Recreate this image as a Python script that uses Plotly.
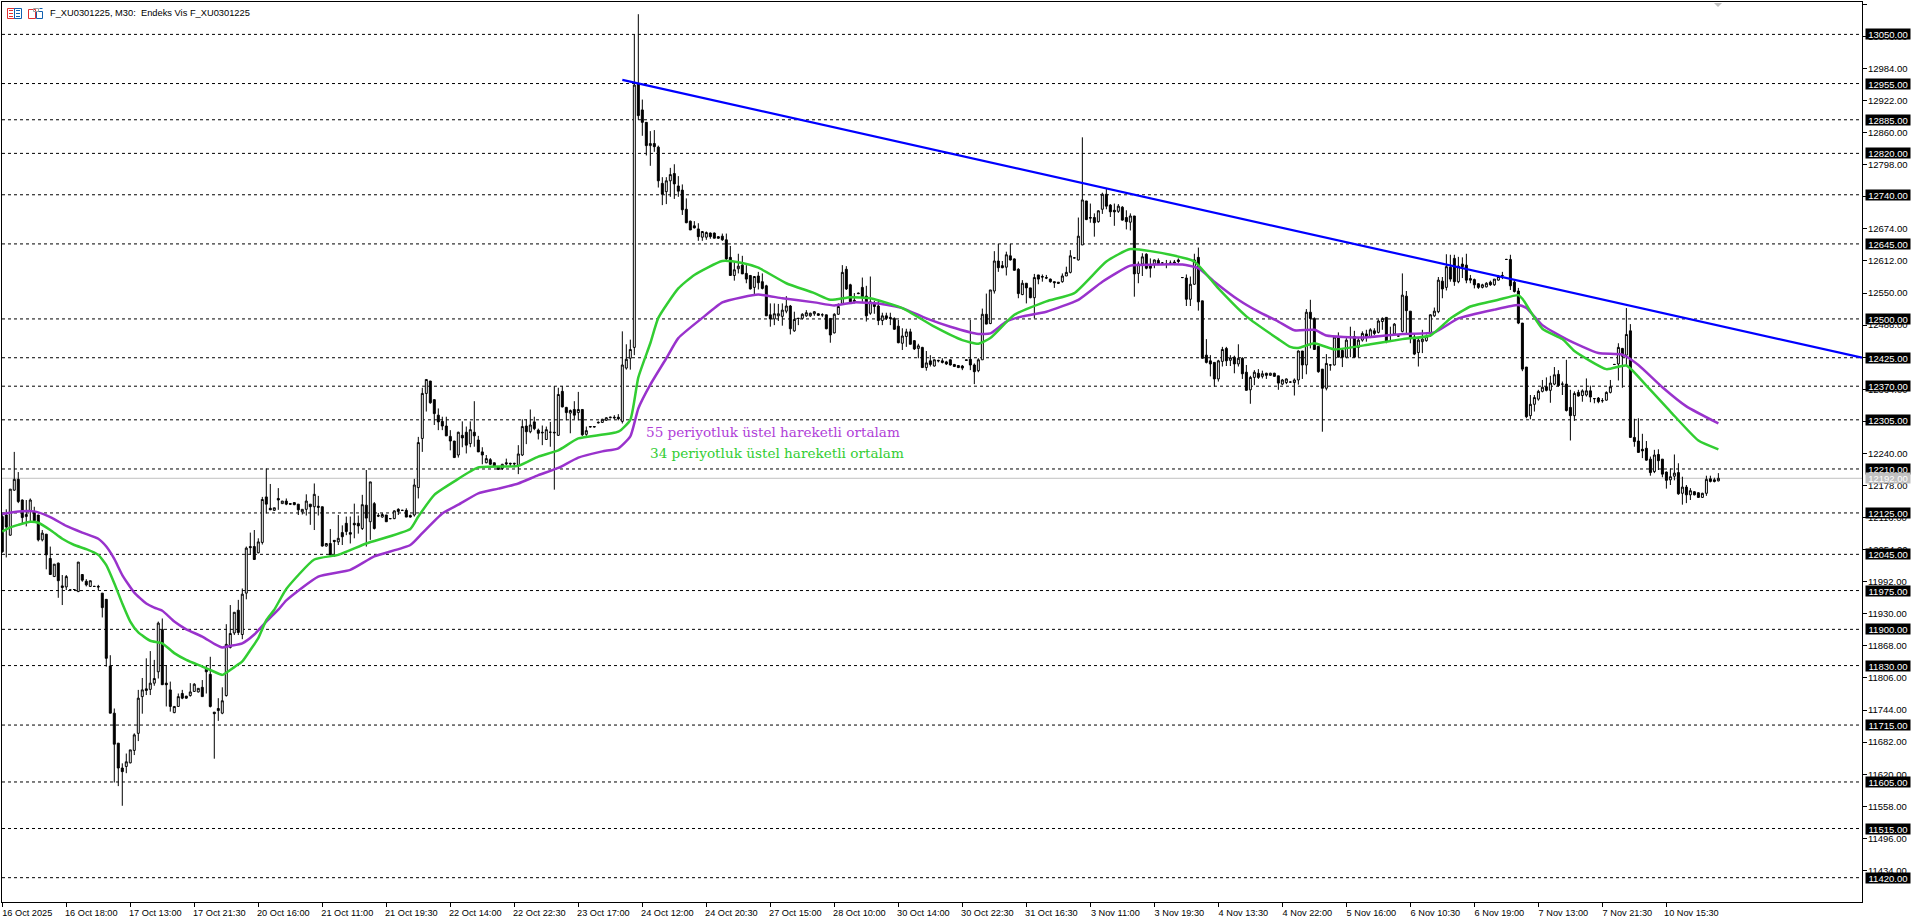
import plotly.graph_objects as go

opens = [
12118,12121,12082,12169,12190,12150,12118,12129,12127,12121,
12073,12084,12037,12002,12028,11984,11982,11976,11977,11973,
12006,11993,11983,11983,11983,11970,11958,11829,11738,11680,
11632,11635,11642,11666,11699,11770,11785,11784,11796,11818,
11900,11796,11783,11739,11751,11776,11771,11772,11780,11779,
11788,11823,11813,11740,11747,11738,11772,11865,11893,11937,
11890,11970,12060,12060,12048,12068,12156,12134,12130,12153,
12143,12148,12143,12145,12142,12127,12132,12142,12137,12138,
12137,12061,12066,12072,12069,12087,12105,12087,12105,12105,
12095,12140,12108,12143,12120,12117,12121,12114,12114,12132,
12130,12130,12120,12121,12174,12269,12356,12380,12344,12314,
12302,12293,12273,12264,12237,12275,12281,12259,12281,12266,
12243,12222,12228,12222,12214,12211,12222,12221,12221,12217,
12237,12293,12282,12301,12285,12281,12267,12281,12281,12275,
12360,12329,12318,12325,12319,12325,12277,12291,12291,12299,
12300,12304,12309,12310,12310,12302,12405,12424,12445,12955,
12904,12880,12835,12839,12832,12762,12746,12767,12781,12757,
12749,12712,12689,12680,12674,12658,12658,12666,12666,12659,
12660,12653,12619,12584,12597,12604,12588,12584,12561,12583,
12572,12564,12508,12500,12506,12505,12515,12525,12477,12501,
12501,12506,12506,12510,12510,12508,12508,12501,12473,12509,
12530,12596,12566,12536,12550,12561,12544,12511,12530,12525,
12497,12506,12503,12501,12486,12453,12466,12475,12458,12443,
12445,12406,12419,12409,12420,12419,12417,12421,12412,12410,
12409,12421,12422,12411,12400,12421,12509,12491,12554,12612,
12603,12600,12622,12616,12596,12547,12569,12560,12541,12585,
12582,12580,12577,12572,12571,12572,12583,12590,12618,12614,
12643,12728,12696,12696,12688,12712,12741,12720,12710,12708,
12716,12696,12687,12699,12588,12606,12625,12605,12606,12613,
12608,12606,12607,12610,12614,12580,12579,12538,12567,12619,
12535,12430,12419,12416,12384,12418,12443,12420,12426,12413,
12424,12397,12363,12387,12395,12389,12395,12391,12395,12390,
12374,12377,12378,12377,12382,12438,12411,12513,12501,12447,
12403,12366,12411,12411,12465,12439,12426,12465,12466,12445,
12459,12471,12466,12477,12474,12495,12503,12469,12471,12467,
12476,12544,12515,12465,12435,12456,12458,12472,12506,12514,
12573,12561,12600,12617,12572,12606,12604,12578,12576,12568,
12561,12562,12571,12566,12575,12584,12615,12615,12571,12554,
12492,12407,12313,12335,12345,12360,12369,12362,12374,12393,
12374,12374,12329,12313,12358,12352,12353,12361,12346,12347,
12342,12343,12358,12412,12413,12443,12430,12477,12271,12264,
12248,12250,12229,12205,12238,12229,12204,12189,12196,12203,
12163,12175,12160,12166,12164,12155,12163,12191,12189,12187]

highs = [
12125,12132,12171,12243,12204,12151,12150,12153,12137,12121,
12092,12084,12060,12026,12029,12005,12005,11977,11978,12030,
12006,11997,11994,11984,11986,11970,11958,11850,11747,11680,
11641,11660,11667,11699,11783,11806,11844,11858,11841,11915,
11921,11830,11799,11751,11776,11783,11771,11796,11796,11786,
11802,11830,11847,11740,11767,11788,11910,11947,11933,11957,
11979,12060,12087,12092,12076,12156,12211,12181,12135,12173,
12148,12153,12144,12145,12142,12132,12161,12142,12182,12158,
12137,12066,12094,12072,12121,12101,12118,12118,12143,12120,
12160,12208,12185,12146,12125,12125,12121,12115,12130,12134,
12131,12134,12122,12191,12272,12367,12383,12380,12344,12327,
12311,12311,12285,12264,12282,12302,12292,12302,12341,12274,
12252,12237,12231,12222,12215,12220,12230,12222,12222,12256,
12306,12306,12325,12311,12288,12294,12292,12301,12370,12367,
12370,12330,12325,12341,12359,12325,12292,12293,12293,12302,
12307,12310,12311,12314,12316,12476,12451,12460,13050,13089,
12924,12880,12863,12865,12835,12774,12774,12792,12799,12776,
12760,12733,12690,12689,12685,12670,12669,12667,12667,12660,
12665,12665,12641,12611,12626,12622,12604,12585,12583,12591,
12588,12566,12530,12530,12529,12530,12544,12527,12514,12502,
12511,12517,12512,12515,12511,12511,12508,12501,12511,12530,
12604,12602,12568,12550,12551,12580,12564,12582,12535,12537,
12512,12512,12512,12503,12498,12482,12481,12481,12459,12452,
12446,12438,12430,12422,12421,12424,12419,12422,12413,12411,
12411,12421,12498,12414,12424,12520,12549,12556,12631,12645,
12612,12630,12645,12617,12598,12575,12569,12560,12587,12585,
12586,12585,12578,12572,12571,12588,12601,12633,12619,12696,
12851,12728,12723,12704,12710,12744,12752,12722,12723,12722,
12718,12710,12704,12699,12611,12627,12627,12617,12615,12617,
12610,12614,12613,12614,12617,12581,12586,12582,12626,12638,
12535,12461,12430,12416,12421,12446,12446,12430,12429,12451,
12426,12411,12390,12401,12403,12400,12396,12396,12396,12390,
12384,12385,12379,12385,12439,12438,12519,12537,12503,12447,
12403,12432,12412,12466,12474,12443,12463,12485,12477,12463,
12476,12479,12482,12482,12499,12503,12503,12485,12492,12468,
12588,12554,12515,12472,12463,12479,12470,12509,12522,12581,
12581,12625,12624,12624,12620,12619,12626,12585,12578,12569,
12568,12571,12574,12577,12585,12591,12616,12624,12575,12560,
12492,12407,12353,12353,12363,12382,12387,12390,12407,12401,
12379,12421,12363,12360,12363,12364,12385,12371,12347,12349,
12347,12360,12382,12413,12453,12444,12521,12490,12307,12308,
12278,12264,12234,12247,12248,12229,12205,12211,12238,12221,
12195,12179,12173,12167,12165,12164,12197,12197,12193,12202]

lows = [
12048,12039,12081,12168,12144,12105,12099,12109,12108,12070,
12070,12016,12005,12002,11961,11947,11976,11975,11976,11972,
11992,11983,11982,11982,11976,11923,11828,11738,11604,11597,
11559,11622,11641,11657,11684,11737,11773,11773,11791,11805,
11793,11751,11741,11738,11751,11765,11766,11770,11779,11778,
11770,11776,11749,11650,11723,11736,11770,11863,11889,11889,
11881,11958,12044,12034,12047,12064,12124,12131,12129,12131,
12143,12140,12141,12140,12121,12122,12120,12102,12092,12120,
12060,12060,12043,12040,12063,12063,12082,12066,12076,12085,
12092,12060,12073,12093,12117,12116,12108,12113,12113,12121,
12129,12117,12116,12118,12153,12243,12321,12336,12295,12285,
12285,12274,12246,12232,12232,12252,12240,12252,12253,12243,
12219,12221,12218,12214,12208,12208,12217,12215,12213,12200,
12235,12258,12279,12285,12267,12256,12266,12253,12170,12274,
12329,12304,12279,12306,12304,12274,12274,12290,12290,12298,
12299,12303,12308,12306,12304,12298,12402,12402,12430,12885,
12854,12816,12796,12823,12754,12720,12722,12736,12732,12736,
12701,12685,12672,12675,12651,12651,12653,12655,12656,12655,
12651,12614,12584,12574,12588,12587,12569,12557,12546,12557,
12557,12506,12485,12488,12496,12487,12511,12470,12475,12488,
12499,12504,12504,12506,12506,12504,12480,12454,12472,12508,
12529,12556,12532,12530,12548,12533,12495,12508,12510,12488,
12488,12498,12488,12479,12453,12440,12446,12451,12440,12424,
12406,12400,12408,12408,12416,12414,12411,12410,12407,12405,
12401,12420,12401,12374,12397,12421,12490,12490,12549,12591,
12598,12584,12613,12594,12540,12546,12530,12540,12501,12567,
12572,12577,12570,12560,12568,12570,12583,12588,12617,12613,
12643,12691,12686,12659,12686,12703,12712,12697,12680,12705,
12690,12673,12671,12543,12569,12583,12596,12580,12598,12604,
12606,12598,12605,12604,12608,12579,12525,12525,12566,12516,
12424,12414,12389,12369,12379,12408,12409,12409,12395,12408,
12384,12362,12336,12372,12384,12385,12384,12390,12388,12363,
12372,12374,12377,12352,12373,12384,12393,12443,12440,12396,
12282,12362,12400,12410,12426,12407,12424,12426,12426,12426,
12456,12456,12463,12469,12472,12479,12453,12456,12469,12466,
12474,12472,12453,12430,12408,12434,12456,12466,12504,12511,
12540,12555,12572,12564,12569,12579,12569,12569,12559,12558,
12559,12561,12564,12564,12574,12577,12614,12556,12551,12490,
12399,12308,12306,12321,12342,12358,12360,12338,12372,12369,
12353,12321,12265,12303,12350,12340,12350,12339,12337,12337,
12338,12342,12356,12411,12381,12367,12409,12271,12253,12242,
12231,12226,12197,12202,12208,12194,12172,12179,12188,12160,
12141,12144,12150,12159,12154,12154,12158,12184,12184,12186]

closes = [
12050,12098,12171,12190,12147,12116,12122,12150,12110,12073,
12086,12044,12006,12026,11994,11981,12002,11976,11977,12030,
11995,11986,11994,11983,11982,11942,11844,11738,11678,11632,
11625,11644,11667,11696,11767,11783,11782,11796,11805,11912,
11793,11793,11751,11751,11770,11767,11767,11779,11794,11786,
11770,11818,11751,11737,11743,11762,11871,11892,11933,11894,
11968,12057,12058,12035,12069,12151,12142,12131,12135,12150,
12148,12142,12142,12141,12131,12132,12148,12137,12161,12136,
12061,12066,12044,12070,12076,12079,12089,12084,12102,12100,
12141,12115,12185,12095,12119,12122,12108,12114,12129,12128,
12130,12117,12117,12179,12261,12356,12383,12338,12317,12301,
12293,12274,12264,12232,12281,12270,12256,12286,12274,12243,
12237,12230,12219,12216,12209,12219,12220,12220,12220,12239,
12292,12282,12295,12288,12279,12280,12286,12281,12280,12354,
12330,12319,12323,12314,12325,12276,12284,12292,12292,12300,
12306,12309,12310,12309,12307,12411,12422,12441,12952,12893,
12880,12835,12839,12833,12767,12741,12767,12779,12761,12747,
12711,12686,12672,12676,12659,12669,12667,12659,12656,12656,
12653,12616,12584,12595,12602,12587,12577,12558,12582,12570,
12559,12506,12500,12510,12510,12517,12525,12481,12499,12501,
12509,12512,12511,12514,12507,12508,12481,12469,12509,12524,
12590,12558,12533,12534,12549,12543,12506,12533,12524,12497,
12506,12501,12501,12480,12454,12467,12475,12451,12442,12448,
12406,12415,12412,12421,12419,12416,12413,12411,12408,12406,
12405,12420,12411,12398,12421,12509,12490,12556,12612,12599,
12599,12624,12614,12594,12549,12569,12560,12541,12580,12577,
12581,12579,12572,12570,12569,12583,12590,12622,12618,12660,
12730,12692,12695,12686,12709,12741,12718,12707,12707,12718,
12691,12688,12699,12587,12606,12620,12598,12598,12614,12606,
12608,12606,12608,12608,12611,12580,12538,12567,12614,12533,
12424,12416,12413,12384,12419,12441,12419,12425,12413,12424,
12394,12362,12387,12397,12387,12394,12391,12395,12389,12376,
12382,12384,12378,12382,12438,12411,12513,12501,12441,12398,
12366,12414,12411,12465,12426,12426,12459,12464,12426,12459,
12472,12465,12479,12472,12496,12501,12456,12468,12490,12467,
12546,12516,12463,12432,12459,12461,12466,12508,12515,12575,
12558,12601,12577,12572,12602,12601,12575,12575,12566,12561,
12566,12569,12566,12577,12582,12584,12615,12564,12553,12492,
12403,12311,12335,12348,12360,12368,12362,12376,12392,12371,
12374,12323,12313,12356,12351,12361,12361,12349,12346,12340,
12342,12358,12369,12412,12445,12428,12470,12271,12263,12242,
12245,12227,12203,12237,12226,12200,12188,12195,12202,12162,
12175,12160,12168,12160,12155,12163,12190,12186,12186,12192]

ema55_x = [0,4,8,12,16,20,24,26,28,30,33,36,38,40,43,46,50,53,55,57,60,63,66,69,71,79,87,93,102,105,110,114,119,124,129,134,139,144,150,154,157,159,162,166,169,175,180,185,189,195,203,208,213,219,225,231,237,244,247,251,255,261,269,275,282,288,295,299,303,309,314,319,323,328,331,340,350,358,364,373,379,381,385,391,399,405,409,415,421,429]
ema55_y = [12123,12128,12128,12117,12100,12087,12075,12060,12036,12005,11971,11950,11942,11936,11915,11900,11886,11872,11865,11868,11873,11890,11915,11938,11956,12002,12015,12041,12063,12086,12124,12141,12163,12172,12182,12198,12212,12232,12244,12250,12273,12327,12373,12424,12463,12502,12532,12542,12547,12540,12532,12526,12532,12530,12521,12501,12485,12471,12472,12495,12505,12514,12537,12572,12603,12605,12605,12598,12572,12537,12514,12495,12478,12479,12468,12464,12471,12474,12501,12518,12527,12521,12488,12461,12434,12431,12411,12368,12331,12298]

ema34_x = [0,2,4,7,9,12,15,18,21,24,26,28,30,32,34,37,40,43,46,50,53,55,58,60,62,64,66,68,71,78,84,91,102,104,108,113,119,129,134,139,144,154,157,159,162,164,169,173,180,185,189,196,203,207,212,217,225,233,240,244,247,253,261,268,276,282,292,298,304,311,319,322,324,328,333,342,350,357,362,367,374,379,380,385,390,393,401,406,411,417,424,429]
ema34_y = [12089,12097,12102,12108,12106,12092,12075,12063,12055,12044,12024,11989,11950,11915,11894,11878,11873,11854,11841,11828,11818,11812,11827,11838,11860,11883,11918,11938,11978,12035,12044,12066,12094,12118,12160,12186,12213,12216,12234,12246,12269,12282,12305,12387,12453,12502,12559,12585,12612,12608,12599,12569,12550,12537,12542,12540,12521,12485,12459,12452,12463,12508,12534,12550,12611,12635,12624,12611,12559,12505,12461,12446,12444,12453,12441,12451,12461,12468,12501,12524,12537,12546,12539,12481,12461,12438,12403,12410,12371,12321,12265,12248]

trend_x = [155, 464.9]
trend_y = [12962, 12425]

time_labels = ["16 Oct 2025","16 Oct 18:00","17 Oct 13:00","17 Oct 21:30","20 Oct 16:00","21 Oct 11:00","21 Oct 19:30",
"22 Oct 14:00","22 Oct 22:30","23 Oct 17:00","24 Oct 12:00","24 Oct 20:30","27 Oct 15:00","28 Oct 10:00","30 Oct 14:00",
"30 Oct 22:30","31 Oct 16:30","3 Nov 11:00","3 Nov 19:30","4 Nov 13:30","4 Nov 22:00","5 Nov 16:00","6 Nov 10:30",
"6 Nov 19:00","7 Nov 13:00","7 Nov 21:30","10 Nov 15:30"]
price_ticks = [13108,13046,12984,12922,12860,12798,12736,12674,12612,12550,12488,12426,12364,12302,12240,12178,12116,12054,
11992,11930,11868,11806,11744,11682,11620,11558,11496,11434]
levels = [13050,12955,12885,12820,12740,12645,12500,12425,12370,12305,12210,12125,12045,11975,11900,11830,11715,11605,11515,11420]
last_price = 12192

assert len(opens) == len(highs) == len(lows) == len(closes) == 430
assert len(ema55_x) == len(ema55_y) and len(ema34_x) == len(ema34_y)

W, H = 1920, 923
L, R, T, B = 2, 58, 2, 21
PW, PH = W - L - R, H - T - B
FONT = "Liberation Sans"
def px(x): return (x - L) / PW
def py(y): return (H - B - y) / PH

bars = list(range(len(opens)))
fig = go.Figure()
fig.add_trace(go.Candlestick(
    x=bars, open=opens, high=highs, low=lows, close=closes, whiskerwidth=0,
    increasing=dict(line=dict(color="#000000", width=1), fillcolor="#ffffff"),
    decreasing=dict(line=dict(color="#000000", width=1), fillcolor="#000000"),
    showlegend=False, hoverinfo="skip"))
fig.add_trace(go.Scatter(x=ema55_x, y=ema55_y, mode="lines", line=dict(color="#9932CC", width=2.5, shape="spline", smoothing=0.5), showlegend=False, hoverinfo="skip"))
fig.add_trace(go.Scatter(x=ema34_x, y=ema34_y, mode="lines", line=dict(color="#32CD32", width=2.5, shape="spline", smoothing=0.5), showlegend=False, hoverinfo="skip"))
fig.add_trace(go.Scatter(x=trend_x, y=trend_y, mode="lines", line=dict(color="#0000FF", width=2.2), showlegend=False, hoverinfo="skip"))

shapes = []
for lv in levels:
    shapes.append(dict(type="line", xref="paper", x0=0, x1=1, yref="y", y0=lv, y1=lv, layer="below",
                       line=dict(color="#000000", width=1, dash="3px,3px")))
shapes.append(dict(type="line", xref="paper", x0=0, x1=1, yref="y", y0=last_price, y1=last_price, layer="below",
                   line=dict(color="#C0C0C0", width=1)))

def rect(x0, y0, x1, y1, color):
    shapes.append(dict(type="rect", xref="paper", yref="paper", x0=px(x0), x1=px(x1), y0=py(y0), y1=py(y1),
                       line=dict(color=color, width=1), fillcolor="rgba(0,0,0,0)"))
def seg(x0, y0, x1, y1, color):
    shapes.append(dict(type="line", xref="paper", yref="paper", x0=px(x0), x1=px(x1), y0=py(y0), y1=py(y1),
                       line=dict(color=color, width=1)))
# toolbar-like icons
rect(7.5, 8.5, 14.5, 18.5, "#E03030"); rect(14.5, 8.5, 21.5, 18.5, "#1060B0")
for yy in (10.5, 13.5, 16.5):
    seg(9, yy, 13, yy, "#E03030"); seg(16, yy, 20, yy, "#1060B0")
rect(28.5, 9.5, 35.5, 18.5, "#E03030"); rect(36.5, 11.5, 42.5, 18.5, "#1060B0")
seg(39.5, 8.5, 42.5, 8.5, "#1060B0"); rect(33.5, 8.5, 38.5, 11.5, "#A0A0A0")
# small marker at the top
shapes.append(dict(type="path", xref="paper", yref="paper",
                   path=f"M {px(1714)} {py(3)} L {px(1722)} {py(3)} L {px(1718)} {py(7)} Z",
                   fillcolor="#C0C0C0", line=dict(width=0)))

ann = [dict(xref="paper", yref="paper", x=px(47.5), y=py(13), xanchor="left", yanchor="middle", showarrow=False,
            text="F_XU0301225, M30:  Endeks Vis F_XU0301225", font=dict(family=FONT, size=9.3, color="#000000")),
       dict(xref="x", yref="y", x=160.4, y=12282, xanchor="left", yanchor="middle", showarrow=False,
            text="55 periyotluk üstel hareketli ortalam", font=dict(family="DejaVu Serif", size=13.6, color="#B040D8")),
       dict(xref="x", yref="y", x=161.4, y=12241, xanchor="left", yanchor="middle", showarrow=False,
            text="34 periyotluk üstel hareketli ortalam", font=dict(family="DejaVu Serif", size=13.6, color="#32CD32"))]
for lv in levels:
    ann.append(dict(xref="paper", yref="y", x=1, xshift=2.5, y=lv, xanchor="left", yanchor="middle", showarrow=False,
                    text=f"{lv:.2f}", font=dict(family=FONT, size=9.5, color="#ffffff"), bgcolor="#000000",
                    width=44, height=10, borderpad=0, align="center"))
ann.append(dict(xref="paper", yref="y", x=1, xshift=2.5, y=last_price, xanchor="left", yanchor="middle", showarrow=False,
                text=f"{last_price:.2f}", font=dict(family=FONT, size=9.5, color="#ffffff"), bgcolor="#C0C0C0",
                width=44, height=10, borderpad=0, align="center"))

fig.update_layout(
    width=W, height=H, margin=dict(l=L, r=R, t=T, b=B, pad=0, autoexpand=False),
    paper_bgcolor="#ffffff", plot_bgcolor="#ffffff", showlegend=False, dragmode=False,
    shapes=shapes, annotations=ann, font=dict(family=FONT, size=9.5, color="#000000"),
    xaxis=dict(range=[-0.07, 464.9], rangeslider=dict(visible=False), showgrid=False, zeroline=False,
               tickmode="array", tickvals=[16 * k for k in range(len(time_labels))], ticktext=time_labels,
               ticks="outside", ticklen=4, tickcolor="#000000", tickwidth=1, showline=True, linecolor="#000000",
               linewidth=1, mirror=True, ticklabelshift=25, ticklabelstandoff=-2,
               tickfont=dict(family=FONT, size=9.2, color="#000000")),
    yaxis=dict(range=[11373, 13112.6], side="right", showgrid=False, zeroline=False, tickmode="array",
               tickvals=price_ticks, ticktext=[f"{p:.2f}" for p in price_ticks], ticks="outside", ticklen=4,
               tickcolor="#000000", tickwidth=1, showline=True, linecolor="#000000", linewidth=1, mirror=True,
               ticklabelstandoff=-1, tickfont=dict(family=FONT, size=9.5, color="#000000")),
)
fig.write_html("out.html", config=dict(displayModeBar=False, staticPlot=True),
               post_script="document.body.style.margin='0';")
